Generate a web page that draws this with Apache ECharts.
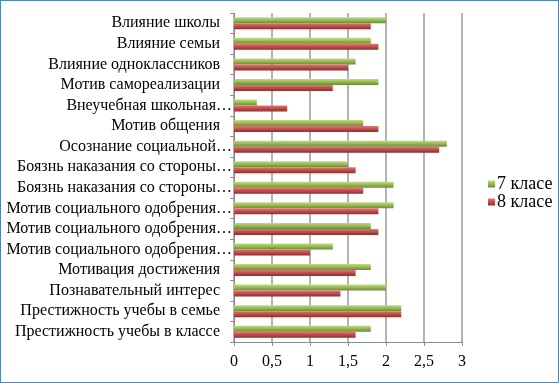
<!DOCTYPE html>
<html><head><meta charset="utf-8">
<script src="https://cdn.jsdelivr.net/npm/echarts@6/dist/echarts.min.js"></script>
<style>
html,body{margin:0;padding:0;background:#fff;}
#c{position:absolute;left:0;top:0;width:557px;height:381px;border:1px solid #4a86c8;}
</style></head>
<body><div id="c"></div>
<script>
// categories listed from bottom to top
var categories = [
  "Престижность учебы в классе",
  "Престижность учебы в семье",
  "Познавательный интерес",
  "Мотивация достижения",
  "Мотив социального одобрения…",
  "Мотив социального одобрения…",
  "Мотив социального одобрения…",
  "Боязнь наказания со стороны…",
  "Боязнь наказания со стороны…",
  "Осознание социальной…",
  "Мотив общения",
  "Внеучебная школьная…",
  "Мотив самореализации",
  "Влияние одноклассников",
  "Влияние семьи",
  "Влияние школы"
];
var class7 = [1.8, 2.2, 2.0, 1.8, 1.3, 1.8, 2.1, 2.1, 1.5, 2.8, 1.7, 0.3, 1.9, 1.6, 1.8, 2.0];
var class8 = [1.6, 2.2, 1.4, 1.6, 1.0, 1.9, 1.9, 1.7, 1.6, 2.7, 1.9, 0.7, 1.3, 1.5, 1.9, 1.8];
var seriesNames = ["7 класе", "8 класе"];

var FONT = "Liberation Serif";
function grad(a, b, c) {
  return new echarts.graphic.LinearGradient(0, 0, 0, 1, [
    {offset: 0, color: a}, {offset: 0.45, color: b}, {offset: 1, color: c}
  ]);
}
var axisData = categories.map(function (c) {
  var item = {value: c};
  if (c.indexOf('…') >= 0) item.textStyle = {padding: [0, -12, 0, 0]};
  return item;
});
var chart = echarts.init(document.getElementById('c'));
chart.setOption({
  animation: false,
  backgroundColor: '#fff',
  grid: {left: 233, right: 96, top: 12, bottom: 40, containLabel: false, outerBoundsMode: 'none'},
  legend: {
    data: seriesNames,
    orient: 'vertical',
    left: 482, top: 169,
    itemWidth: 7, itemHeight: 7, itemGap: 0,
    icon: 'rect',
    textStyle: {fontFamily: FONT, fontSize: 18, lineHeight: 14, color: '#000', padding: [0,0,0,-3]}
  },
  xAxis: {
    type: 'value', min: 0, max: 3, interval: 0.5,
    axisLine: {show: true, lineStyle: {color: '#8c8c8c'}},
    axisTick: {show: true, length: 4, lineStyle: {color: '#8c8c8c'}},
    splitLine: {show: true, lineStyle: {color: '#9a9a9a', width: 1.5}},
    axisLabel: {fontFamily: FONT, fontSize: 16, color: '#000', margin: 12,
      formatter: function (v) { return String(v).replace('.', ','); }}
  },
  yAxis: {
    type: 'category', data: axisData,
    axisLine: {show: true, lineStyle: {color: '#8c8c8c'}},
    axisTick: {show: true, length: 4, lineStyle: {color: '#8c8c8c'}},
    axisLabel: {fontFamily: FONT, fontSize: 16, color: '#000', margin: 14, interval: 0}
  },
  series: [
    {name: seriesNames[0], type: 'bar', data: class7, barWidth: 6, barGap: '0%',
      itemStyle: {color: grad('#c2dd7e', '#9bbb59', '#6c8a33')}},
    {name: seriesNames[1], type: 'bar', data: class8, barWidth: 6, barGap: '0%',
      itemStyle: {color: grad('#e07a77', '#c0504d', '#8e2f2c')}}
  ],
  color: ['#9bbb59', '#c0504d']
});
</script></body></html>
